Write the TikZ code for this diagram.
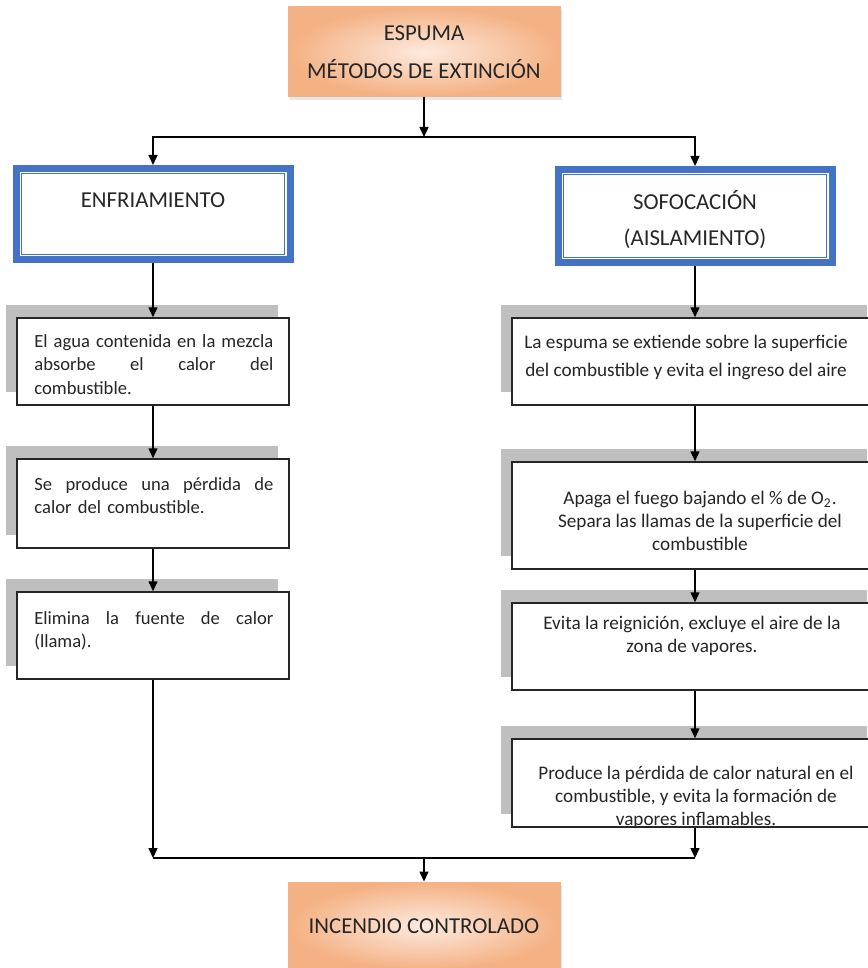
\documentclass[tikz,border=0pt]{standalone}
\usepackage{fontspec}
\setmainfont{Carlito}
\usetikzlibrary{arrows.meta,shadows}
\definecolor{officeblue}{HTML}{4472C4}
\definecolor{peachlight}{HTML}{FDEADF}
\definecolor{peachdark}{HTML}{F4B183}
\definecolor{shadowgray}{HTML}{BFBFBF}
\definecolor{inkgray}{HTML}{262626}

% one justified line of a left card
\newcommand\jline[1]{\makebox[119.5pt][s]{\spaceskip=0.2em plus 1fil\relax #1}}

\begin{document}
\begin{tikzpicture}[x=0.5pt, y=-0.5pt,
    flow/.style={-{Triangle[length=5pt,width=4.5pt]}, line width=0.75pt},
    peachbox/.style={shade, inner color=peachlight, outer color=peachdark,
        draw=peachdark, line width=0.5pt, minimum width=136pt, align=center,
        text=inkgray, font=\fontsize{11.4}{19}\selectfont,
        drop shadow={opacity=0.2, shadow xshift=1pt, shadow yshift=-1.5pt}},
    bluebox/.style={draw=officeblue, line width=3.5pt, inner sep=0pt,
        minimum width=137pt,
        path picture={\draw[officeblue, line width=0.5pt]
            ([shift={(2.75pt,-2.75pt)}]path picture bounding box.north west) rectangle
            ([shift={(-2.75pt,2.75pt)}]path picture bounding box.south east);}},
    headtext/.style={inner sep=0pt, align=center, text=inkgray,
        font=\fontsize{11.4}{18}\selectfont},
    stepcard/.style={draw=black!85, line width=0.75pt, fill=white, inner sep=0pt,
        general shadow={fill=shadowgray, shadow xshift=-5.5pt, shadow yshift=6.5pt}},
    cardtext/.style={inner sep=0pt, text=inkgray, font=\fontsize{9.3}{11.7}\selectfont},
    wide/.style={font=\fontsize{9.6}{11.5}\selectfont},
  ]
    \def\leftw{136pt}
    \def\rightw{183pt}

    \useasboundingbox (0,0) rectangle (867,968);

    % heads
    \node[peachbox, minimum height=45pt] (espuma) at (424,52)
        {ESPUMA\\MÉTODOS DE EXTINCIÓN};
    \node[bluebox, minimum height=45.5pt] (enf) at (153,214) {};
    \node[bluebox, minimum height=46.5pt] (sof) at (695,216) {};
    \node[headtext] (enftxt) at (153,200) {ENFRIAMIENTO};
    \node[headtext] (softxt) at (695,220) {SOFOCACIÓN\\(AISLAMIENTO)};

    % cards, left column
    \node[stepcard, minimum width=\leftw, minimum height=43.5pt] (l1) at (153,361.5) {};
    \node[stepcard, minimum width=\leftw, minimum height=44.5pt] (l2) at (153,503.5) {};
    \node[stepcard, minimum width=\leftw, minimum height=43.5pt] (l3) at (153,635.5) {};

    % cards, right column
    \node[stepcard, minimum width=\rightw, minimum height=43.5pt] (r1) at (695,361.5) {};
    \node[stepcard, minimum width=\rightw, minimum height=53.5pt] (r2) at (695,515.5) {};
    \node[stepcard, minimum width=\rightw, minimum height=43.5pt] (r3) at (695,646.5) {};
    \node[stepcard, minimum width=\rightw, minimum height=44pt] (r4) at (695,783) {};

    % texts
    \node[cardtext, text width=119.5pt, align=left, anchor=north west] (l1txt) at (34,334)
        {\jline{El agua contenida en la mezcla}\\\jline{absorbe el calor del}\\combustible.};
    \node[cardtext, text width=119.5pt, align=left, anchor=north west] (l2txt) at (34,477)
        {\jline{Se produce una pérdida de}\\calor del combustible.};
    \node[cardtext, text width=119.5pt, align=left, anchor=north west] (l3txt) at (34,611)
        {\jline{Elimina la fuente de calor}\\(llama).};
    \node[cardtext, wide, align=center, anchor=north] (r1txt) at (686,335)
        {La espuma se extiende sobre la superficie\\[2.5pt]del combustible y evita el ingreso del aire};
    \node[cardtext, wide, align=center, anchor=north] (r2txt) at (700,491)
        {Apaga el fuego bajando el \% de O\textsubscript{2}.\\Separa las llamas de la superficie del\\combustible};
    \node[cardtext, wide, align=center, anchor=north] (r3txt) at (692,616)
        {Evita la reignición, excluye el aire de la\\zona de vapores.};
    \node[cardtext, wide, align=center, anchor=north] (r4txt) at (696,766)
        {Produce la pérdida de calor natural en el\\combustible, y evita la formación de\\vapores inflamables.};

    \node[peachbox, minimum height=44pt] (inc) at (424,926) {INCENDIO CONTROLADO};

    % connectors
    \coordinate (split) at (424,137);
    \coordinate (merge) at (424,858);
    \draw[flow] (espuma) -- (split);
    \draw[flow] (split) -| (enf);
    \draw[flow] (split) -| (sof);
    \draw[flow] (enf) -- (l1);
    \draw[flow] (l1) -- (l2);
    \draw[flow] (l2) -- (l3);
    \draw[flow] (sof) -- (r1);
    \draw[flow] (r1) -- (r2);
    \draw[flow] (r2) -- (r3);
    \draw[flow] (r3) -- (r4);
    \draw[flow] (l3) -- (l3 |- merge);
    \draw[flow] (r4) -- (r4 |- merge);
    \draw[line width=0.75pt] (l3 |- merge) -- (r4 |- merge);
    \draw[flow] (merge) -- (inc);
\end{tikzpicture}
\end{document}
